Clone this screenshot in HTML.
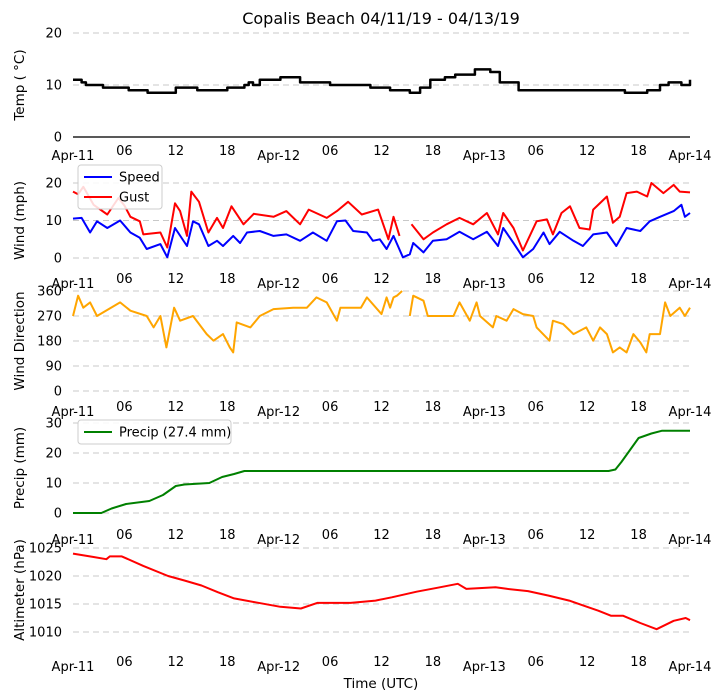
<!DOCTYPE html>
<html><head><meta charset="utf-8"><style>
body{margin:0;background:#fff;}
svg{display:block;font-family:"DejaVu Sans","Liberation Sans",sans-serif;}
</style></head><body>
<svg id="chart" width="722" height="700" viewBox="0 0 722 700" xmlns="http://www.w3.org/2000/svg">
<text x="381" y="24" font-size="16" text-anchor="middle">Copalis Beach 04/11/19 - 04/13/19</text>
<text x="381" y="688" font-size="13.5" text-anchor="middle">Time (UTC)</text>
</svg>
<script>
const xTickLabels = ["Apr-11","06","12","18","Apr-12","06","12","18","Apr-13","06","12","18","Apr-14"];
const xTickHours = [0,6,12,18,24,30,36,42,48,54,60,66,72];

const tempHours = [0,1,1.5,3.5,6.5,8.7,11.5,12,14,14.5,17.5,18,19,20,20.5,21,21.8,23,24.2,26.5,30,34.7,37,38.5,39.3,40.5,41.7,43.4,44.6,46.9,47.5,48.7,49.8,52,54.5,64.4,66,67,68.5,69.5,70.5,71,72];
const tempValues = [11,10.5,10,9.5,9,8.5,8.5,9.5,9.5,9,9,9.5,9.5,10,10.5,10,11,11,11.5,10.5,10,9.5,9,9,8.5,9.5,11,11.5,12,13,13,12.5,10.5,9,9,8.5,8.5,9,10,10.5,10.5,10,11];

const speedHours = [0,1,2,2.8,4,5.5,6.7,7.8,8.6,10.2,11,11.9,13.3,14,14.7,15.8,16.8,17.5,18.7,19.5,20.3,21.8,23.4,24.9,26.5,28,29.6,30.8,31.8,32.7,34.3,35,35.8,36.6,37.4,38.5,39.3,39.7,40.9,42,43.6,45.1,46.7,48.3,49.6,50.2,51.4,52.5,53.7,54.9,55.6,56.8,58.4,59.5,60.7,62.3,63.4,64.6,66.2,67.3,68.5,70.1,71,71.4,72];
const speedValues = [10.5,10.7,6.8,9.8,8,10,6.8,5.4,2.4,3.7,0.2,8,3.2,9.8,9,3.2,4.6,3.2,5.9,4,6.8,7.2,5.9,6.3,4.6,6.8,4.6,9.8,10,7.2,6.8,4.6,5,2.4,5.9,0.2,1,4,1.5,4.6,5,7,5,7,3.2,8,4,0.2,2.4,6.8,3.7,7,4.6,3.2,6.3,6.8,3.2,8,7.2,9.8,11,12.5,14.2,11,12];

const gustHours = [0,0.6,1.2,2.4,4,5.3,6,6.7,7.8,8.2,10.2,11,11.9,12.5,13.3,13.8,14.7,15.8,16.8,17.5,18.5,19.9,21.1,23.4,24.9,26.5,27.5,29.6,30.8,32.1,33.7,35.6,36.8,37.4,38.1];
const gustValues = [17.7,17,19,14.2,11.6,16,14,11,9.8,6.3,6.8,2.8,14.6,12.5,5.9,17.7,15,6.8,10.7,8,13.8,9,11.8,11,12.5,9,12.9,10.7,12.5,15,11.6,12.9,5,11,5.9];
const gust2Hours = [39.5,40.9,42,43.6,45.1,46.7,48.3,49.6,50.2,51.4,52.5,54.1,55.3,56,57,58,59.1,60.3,60.7,62.3,63,63.8,64.6,65.8,67,67.5,68.9,70.1,70.8,72];
const gust2Values = [9,5,6.8,9,10.7,9,12,6.3,12,8,2,9.8,10.3,6.3,12,13.8,8,7.6,12.9,16.4,9.4,11,17.3,17.7,16.4,21.7,17.3,19.5,17.7,17.5];

const dirHours = [0,0.6,1.2,2,2.8,5.5,6.7,8.6,9.4,10.2,10.9,11.8,12.5,14,15.6,16.4,17.5,18.3,18.7,19.1,20.7,21.8,23.4,25.7,27.3,28.4,29.6,30.8,31.2,33.6,34.3,36,36.6,37,37.4,37.8,38.4];
const dirValues = [270,343,300,319,270,319,289,270,229,270,157,300,253,270,205,181,205,157,139,247,229,270,295,300,300,337,319,253,300,300,337,277,337,300,337,343,360];
const dir2Hours = [39.3,39.7,40.9,41.4,42.8,44.4,45.1,46.3,47.1,47.5,49,49.4,50.6,51.4,52.5,53.7,54.1,55.6,56,57.2,58.4,59.9,60.7,61.5,62.3,63,63.8,64.6,65.4,66.2,66.9,67.3,68.5,69.1,69.7,70.8,71.4,72];
const dir2Values = [270,343,325,270,270,270,319,253,319,270,229,270,253,295,277,270,229,181,253,241,205,229,181,229,205,139,157,139,205,175,139,205,205,319,270,300,270,300];

const precipHours = [0,3.3,4.5,6.2,8.9,10.5,12,13,15.9,17.4,18.8,20,62.5,63.3,64,65,66,66.5,67.5,68.7,72];
const precipValues = [0,0,1.5,3,4,6,9,9.5,10,12,13,14,14,14.5,17,21,25,25.5,26.5,27.4,27.4];

const altHours = [0,2.4,3.9,4.3,5.7,8.2,11.1,13,15,16.9,18.8,21.3,24.2,26.6,28.5,32.4,35.3,37.2,40.1,42.5,44.9,45.9,49.3,50.7,53.1,55.5,57.9,59.4,61.3,62.8,64.2,66.2,68.1,70.1,71.5,72];
const altValues = [1024,1023.4,1023,1023.5,1023.5,1021.8,1020,1019.2,1018.3,1017.1,1016,1015.3,1014.5,1014.2,1015.2,1015.2,1015.6,1016.2,1017.2,1017.9,1018.6,1017.7,1018,1017.7,1017.3,1016.5,1015.6,1014.8,1013.8,1012.9,1012.9,1011.6,1010.5,1012,1012.5,1012.1];

const svg = document.getElementById('chart');
const NS = 'http://www.w3.org/2000/svg';
const X0 = 73, X1 = 690;
function xScale(h){ return X0 + (X1 - X0) * h / 72; }
function mk(tag, attrs){ const e = document.createElementNS(NS, tag); for (const k in attrs) e.setAttribute(k, attrs[k]); svg.appendChild(e); return e; }

const panels = [
  {name:'temp', ticks:[0,10,20], vmin:0, vmax:20, ytop:33, ybot:137, labelText:'Temp ( \u00B0C)', xlab:157, base:true},
  {name:'wind', ticks:[0,10,20], vmin:0, vmax:20, ytop:183, ybot:258, labelText:'Wind (mph)', xlab:285},
  {name:'direction', ticks:[0,90,180,270,360], vmin:0, vmax:360, ytop:291, ybot:391, labelText:'Wind Direction', xlab:413},
  {name:'precip', ticks:[0,10,20,30], vmin:0, vmax:30, ytop:423, ybot:513, labelText:'Precip (mm)', xlab:541},
  {name:'altimeter', ticks:[1010,1015,1020,1025], vmin:1010, vmax:1025, ytop:548, ybot:632, labelText:'Altimeter (hPa)', xlab:668}
];
panels.forEach(p => {
  p.y = v => p.ybot - (v - p.vmin) * (p.ybot - p.ytop) / (p.vmax - p.vmin);
  p.ticks.forEach(t => {
    const yy = p.y(t);
    const g = mk('line', {x1:X0, x2:X1, y1:yy, y2:yy, stroke:'#c8c8c8', 'stroke-width':1, 'stroke-dasharray':'6,4'});
    
    
    const tl = mk('text', {x:62, y:yy+4.5, 'font-size':13, 'text-anchor':'end'});
    tl.textContent = t;
    
    
  });
  if (p.base) {
    const b = mk('line', {x1:X0, x2:X1, y1:p.ybot, y2:p.ybot, stroke:'#222', 'stroke-width':1.5});
    
    
  }
  const cy = (p.ytop + p.ybot) / 2;
  const al = mk('text', {x:0, y:0, 'font-size':13.5, 'text-anchor':'middle', transform:'translate(24,' + cy + ') rotate(-90)'});
  al.textContent = p.labelText;
  
  
  xTickHours.forEach((h, i) => {
    const lab = xTickLabels[i];
    const isDate = lab.indexOf('Apr') === 0;
    const t = mk('text', {x:xScale(h), y:p.xlab + (isDate ? 3 : -2), 'font-size':13, 'text-anchor':'middle'});
    t.textContent = lab;
    
    
  });
});

function series(p, hours, vals, color, name, w, step){
  let d = '';
  hours.forEach((h, i) => {
    const xx = xScale(h).toFixed(1), yy = p.y(Math.min(vals[i], p.vmax)).toFixed(1);
    if (i === 0) d += 'M' + xx + ' ' + yy;
    else if (step) d += ' H' + xx + ' V' + yy;
    else d += ' L' + xx + ' ' + yy;
  });
  const path = mk('path', {d:d, fill:'none', stroke:color, 'stroke-width':w || 2, 'stroke-linejoin':'round'});
  
  
}
series(panels[0], tempHours, tempValues, '#000', 'temp-line', 2.5, true);
series(panels[1], speedHours, speedValues, '#0000ff', 'speed-line');
series(panels[1], gustHours, gustValues, '#ff0000', 'gust-line');
series(panels[1], gust2Hours, gust2Values, '#ff0000', 'gust-line-2');
series(panels[2], dirHours, dirValues, '#ffa500', 'direction-line');
series(panels[2], dir2Hours, dir2Values, '#ffa500', 'direction-line-2');
series(panels[3], precipHours, precipValues, '#008000', 'precip-line');
series(panels[4], altHours, altValues, '#ff0000', 'altimeter-line');

function legend(name, x, y, w, entries){
  const r = mk('rect', {x:x, y:y, width:w, height:entries.length*20+4, rx:3, fill:'#fff', 'fill-opacity':0.85, stroke:'#ccc'});
  
  
  entries.forEach((e, i) => {
    const yy = y + 12 + i*20;
    const l = mk('line', {x1:x+6, x2:x+34, y1:yy, y2:yy, stroke:e[1], 'stroke-width':2});
    
    
    const t = mk('text', {x:x+41, y:yy+4.5, 'font-size':13});
    t.textContent = e[0];
    
    
  });
}
legend('wind-legend', 78, 165, 84, [['Speed','#0000ff'],['Gust','#ff0000']]);
legend('precip-legend', 78, 420, 153, [['Precip (27.4 mm)','#008000']]);
</script>
</body></html>
